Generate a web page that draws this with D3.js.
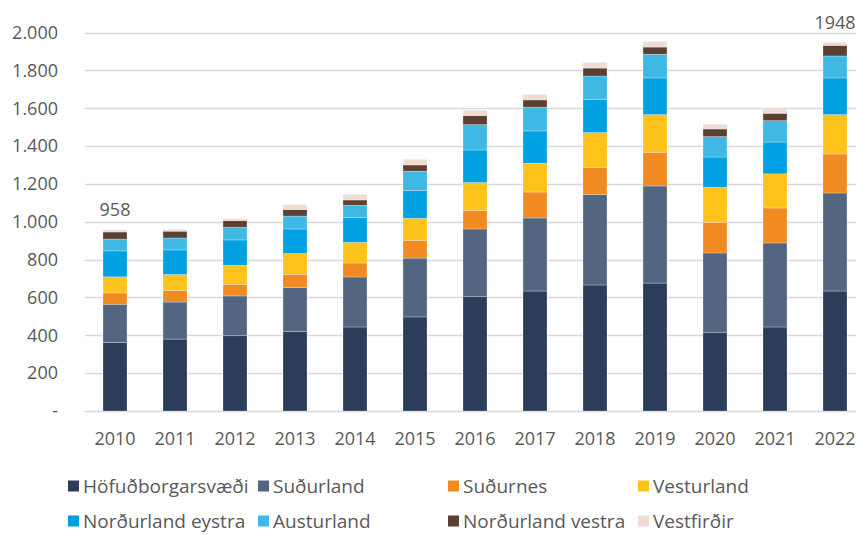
<!DOCTYPE html>
<html>
<head>
<meta charset="utf-8">
<script src="https://cdn.jsdelivr.net/npm/d3@7"></script>
<style>
  html, body { margin: 0; padding: 0; background: #fff; }
  svg { display: block; font-family: "Open Sans", "Noto Sans", sans-serif; }
</style>
</head>
<body>
<svg id="chart" width="856" height="535"></svg>
<script>
// Years on the x axis
const years = ["2010","2011","2012","2013","2014","2015","2016","2017","2018","2019","2020","2021","2022"];

// Regions, stacked bottom to top
const regions = ["Höfuðborgarsvæði","Suðurland","Suðurnes","Vesturland","Norðurland eystra","Austurland","Norðurland vestra","Vestfirðir"];
const colors  = ["#2b3d5a","#536681","#f08a21","#fdc31a","#00a0e3","#3fb8e3","#5c4033","#efdcd3"];

// Values per region, one per year
const hofudborgarsvaedi = [363, 380, 398, 421, 444, 497, 604, 634, 666, 676, 416, 444, 634];
const sudurland         = [201, 196, 210, 231, 264, 311, 358, 386, 478, 513, 419, 444, 518];
const sudurnes          = [ 60,  62,  61,  70,  74,  94,  97, 137, 144, 178, 162, 185, 206];
const vesturland        = [ 85,  83, 101, 110, 109, 116, 148, 152, 183, 199, 185, 180, 208];
const nordurlandEystra  = [137, 130, 134, 130, 131, 148, 172, 171, 176, 194, 160, 168, 194];
const austurland        = [ 62,  63,  67,  68,  65, 101, 134, 125, 123, 125, 108, 113, 116];
const nordurlandVestra  = [ 38,  36,  35,  34,  28,  33,  48,  39,  42,  38,  40,  39,  56];
const vestfirdir        = [ 12,  10,  11,  27,  30,  30,  28,  29,  29,  30,  25,  23,  16];

// Years whose total is printed above the bar
const labelledYears = ["2010", "2022"];

// Y axis ticks
const yTicks = [0, 200, 400, 600, 800, 1000, 1200, 1400, 1600, 1800, 2000];

const series = [hofudborgarsvaedi, sudurland, sudurnes, vesturland, nordurlandEystra, austurland, nordurlandVestra, vestfirdir];

const rows = years.map((y, i) => {
  const r = { year: y };
  regions.forEach((name, k) => { r[name] = series[k][i]; });
  return r;
});

const svg = d3.select("#chart");

const x = d3.scaleBand().domain(years).range([85, 865]).paddingInner(0.6).paddingOuter(0.3);
const y = d3.scaleLinear().domain([0, 2000]).range([411, 32.5]);

const loc = d3.formatLocale({ decimal: ",", thousands: ".", grouping: [3], currency: ["", ""] });
const fmt = loc.format(",");

// Gridlines
svg.append("g")
  .selectAll("line")
  .data(yTicks)
  .join("line")
  .attr("x1", 85).attr("x2", 856)
  .attr("y1", d => Math.round(y(d)) + 0.5).attr("y2", d => Math.round(y(d)) + 0.5)
  .attr("stroke", "#d9d9d9").attr("stroke-width", 1.5);

// Y tick labels
svg.append("g")
  .selectAll("text")
  .data(yTicks)
  .join("text")
  .attr("x", 58).attr("y", d => y(d))
  .attr("dy", "0.35em")
  .attr("text-anchor", "end")
  .attr("fill", "#595959")
  .attr("font-size", 18)
  .text(d => d === 0 ? "-" : fmt(d));

// Stacked bars
const stack = d3.stack().keys(regions);
const stacked = stack(rows);

svg.append("g")
  .selectAll("g")
  .data(stacked)
  .join("g")
  .attr("fill", (d, i) => colors[i])
  .selectAll("rect")
  .data(d => d)
  .join("rect")
  .attr("x", d => x(d.data.year))
  .attr("width", x.bandwidth())
  .attr("y", d => y(d[1]))
  .attr("height", d => y(d[0]) - y(d[1]))
  .attr("stroke", "rgba(255,255,255,0.35)")
  .attr("stroke-width", 0.75);

// X axis labels
svg.append("g")
  .selectAll("text")
  .data(years)
  .join("text")
  .attr("x", d => x(d) + x.bandwidth() / 2)
  .attr("y", 439)
  .attr("dy", "0.35em")
  .attr("text-anchor", "middle")
  .attr("fill", "#595959")
  .attr("font-size", 18)
  .text(d => d);

// Totals above selected bars
const totals = rows.map(r => ({ year: r.year, total: d3.sum(regions, k => r[k]) }));
svg.append("g")
  .selectAll("text")
  .data(totals.filter(t => labelledYears.includes(t.year)))
  .join("text")
  .attr("x", d => x(d.year) + x.bandwidth() / 2)
  .attr("y", d => y(d.total) - 20)
  .attr("dy", "0.35em")
  .attr("text-anchor", "middle")
  .attr("fill", "#595959")
  .attr("font-size", 18)
  .text(d => d.total);

// Legend: two rows of four
const legendX = [68, 258, 448, 638];
const legendY = [486, 521];
const legend = svg.append("g")
  .selectAll("g")
  .data(regions)
  .join("g")
  .attr("transform", (d, i) => `translate(${legendX[i % 4]},${legendY[Math.floor(i / 4)]})`);

legend.append("rect")
  .attr("x", 0).attr("y", -5.5)
  .attr("width", 11).attr("height", 11)
  .attr("fill", (d, i) => colors[i]);

legend.append("text")
  .attr("x", 15).attr("y", 0)
  .attr("dy", "0.35em")
  .attr("fill", "#595959")
  .attr("font-size", 19)
  .text(d => d);
</script>
</body>
</html>
